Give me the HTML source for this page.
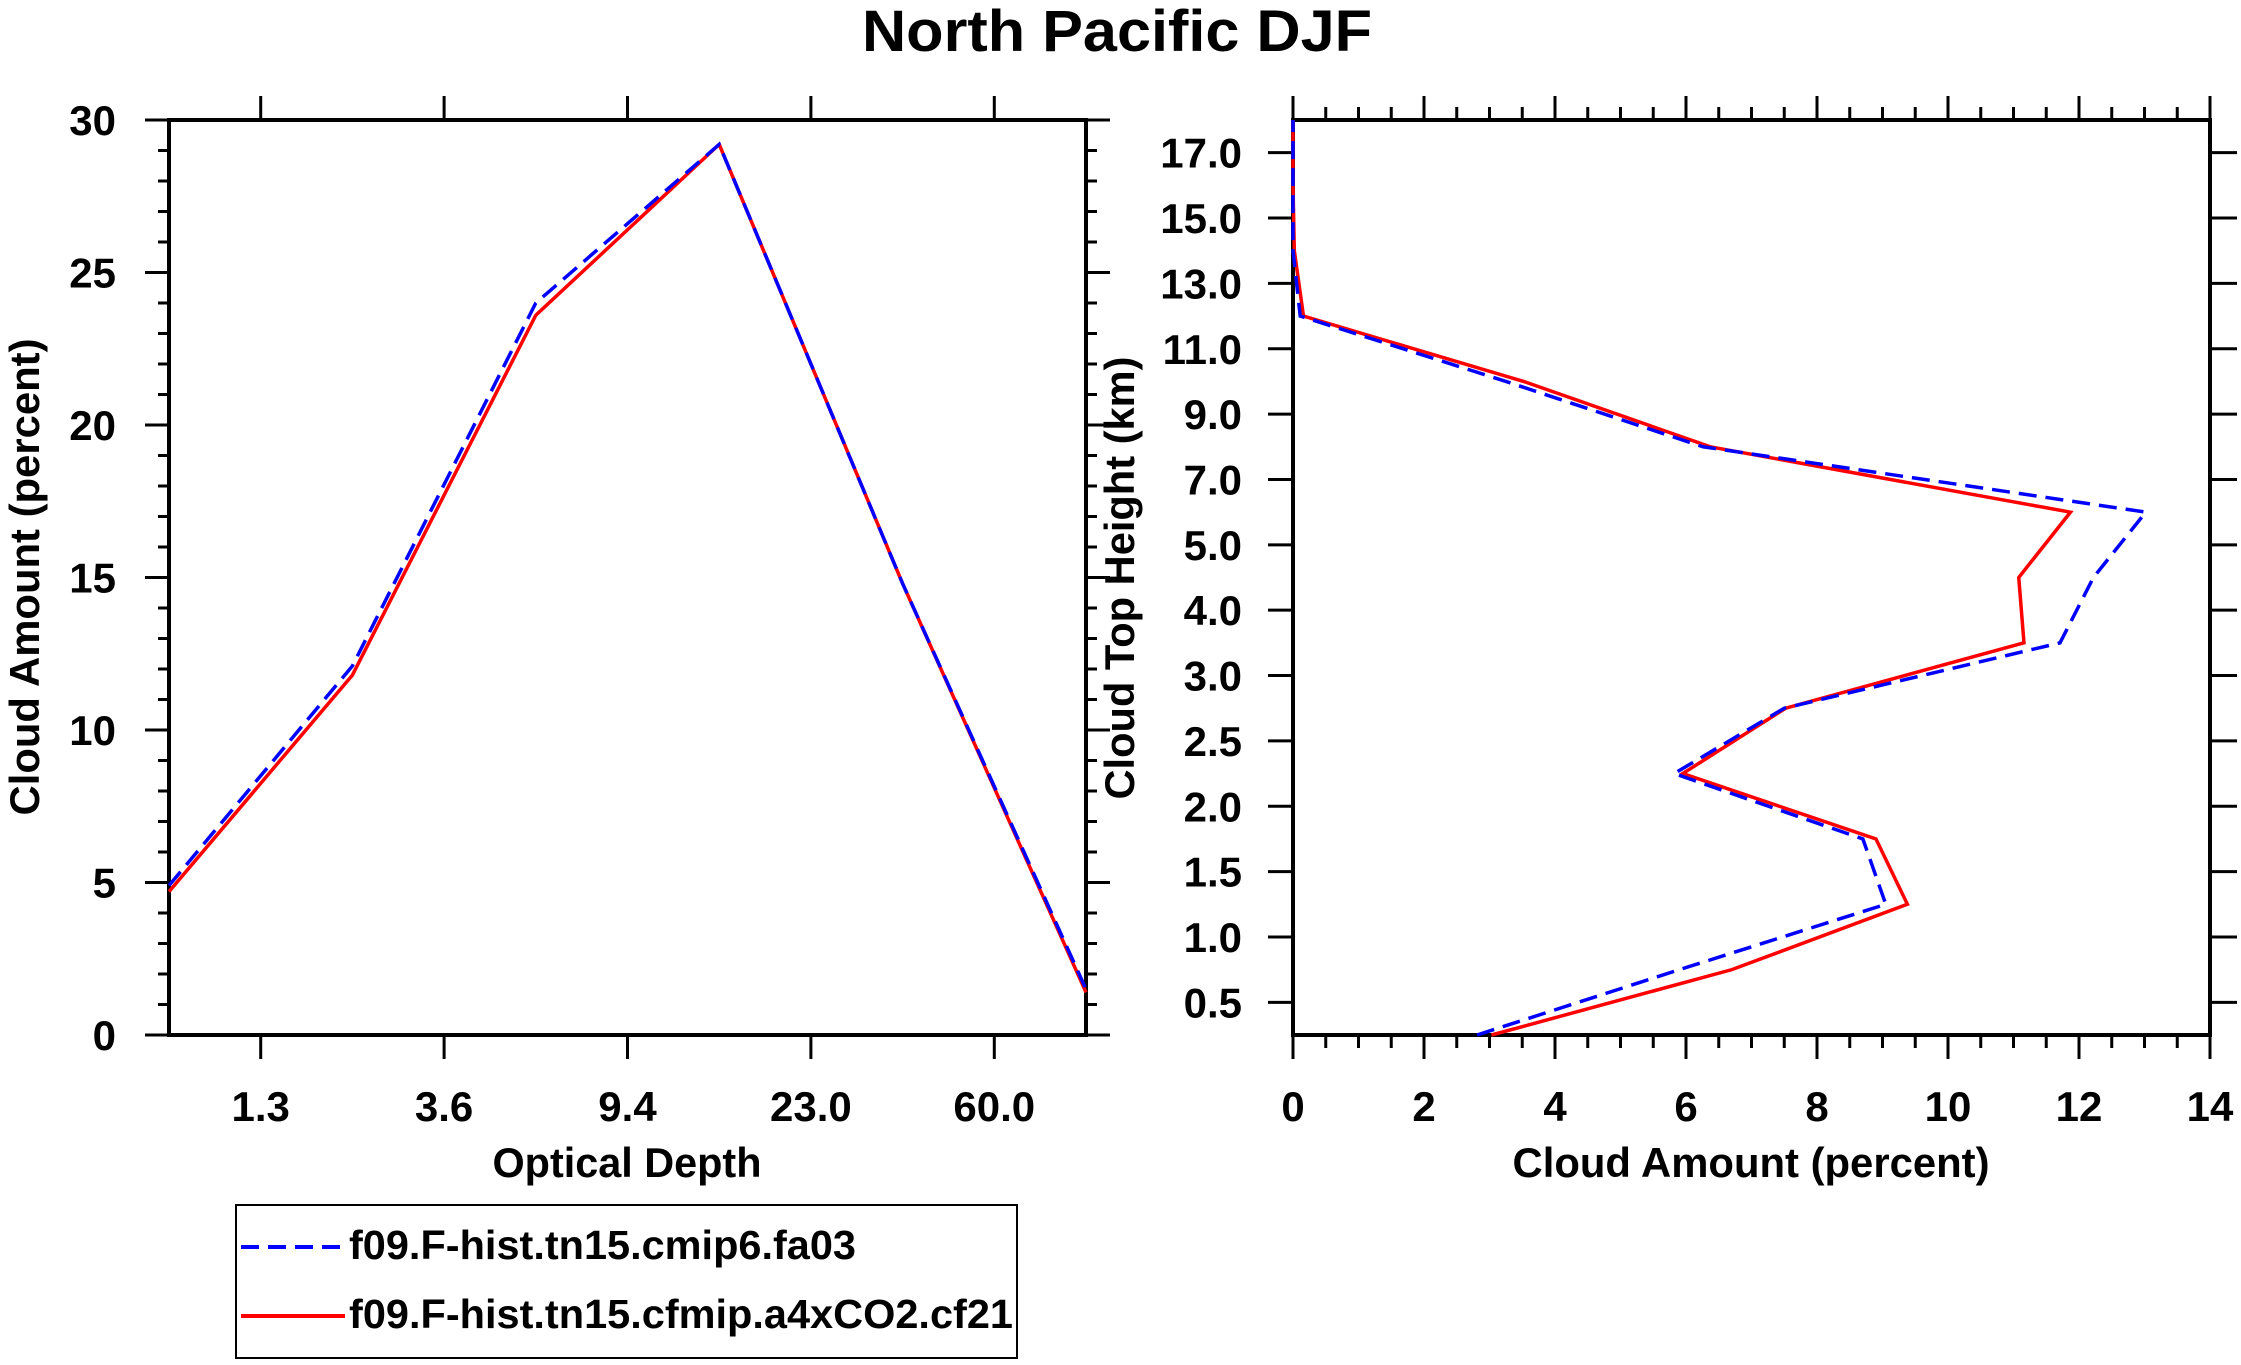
<!DOCTYPE html>
<html><head><meta charset="utf-8"><style>
html,body{margin:0;padding:0;background:#fff;}
svg{display:block;font-family:"Liberation Sans",sans-serif;font-weight:bold;}
</style></head><body>
<svg id="chart" width="2241" height="1365" viewBox="0 0 2241 1365" xmlns="http://www.w3.org/2000/svg">
<text x="1117" y="51" font-size="58" text-anchor="middle" textLength="510" lengthAdjust="spacingAndGlyphs">North Pacific DJF</text>
<g id="left"></g>
<g id="right"></g>
<g id="legend">
<rect x="236" y="1205" width="781" height="153" fill="none" stroke="#000" stroke-width="2"/>
<line x1="241" y1="1247" x2="345" y2="1247" stroke="#0000ff" stroke-width="4" stroke-dasharray="18,9"/>
<text x="349" y="1259" font-size="41" textLength="507" lengthAdjust="spacingAndGlyphs">f09.F-hist.tn15.cmip6.fa03</text>
<line x1="241" y1="1316" x2="345" y2="1316" stroke="#ff0000" stroke-width="4"/>
<text x="349" y="1328" font-size="41" textLength="664" lengthAdjust="spacingAndGlyphs">f09.F-hist.tn15.cfmip.a4xCO2.cf21</text>
</g>
</svg>
<script>
// Left panel data
const tauLabels = ["1.3","3.6","9.4","23.0","60.0"];
const leftBlue = [4.9, 12.1, 24.0, 29.2, 14.8, 1.5];
const leftRed = [4.7, 11.8, 23.6, 29.2, 14.8, 1.4];
const leftYTicks = [0,5,10,15,20,25,30];
// Right panel data
const heightLabels = ["0.5","1.0","1.5","2.0","2.5","3.0","4.0","5.0","7.0","9.0","11.0","13.0","15.0","17.0"];
const rightBlue = [2.81, 5.9, 9.05, 8.7, 5.82, 7.5, 11.71, 12.22, 13.02, 6.26, 3.25, 0.11, 0.0, 0.0, 0.0];
const rightRed = [3.03, 6.7, 9.38, 8.9, 5.95, 7.52, 11.16, 11.08, 11.87, 6.37, 3.52, 0.16, 0.02, 0.0, 0.0];
const rightXTicks = [0,2,4,6,8,10,12,14];

const NS="http://www.w3.org/2000/svg";
function mk(parent,tag,attrs,text){const e=document.createElementNS(NS,tag);for(const k in attrs)e.setAttribute(k,attrs[k]);if(text!==undefined)e.textContent=text;parent.appendChild(e);return e;}

// ---- Left panel ----
const L=document.getElementById('left');
const lx0=169,lx1=1086,ly0=120,ly1=1035;
const lxs=i=>lx0+(lx1-lx0)*i/5;
const lys=v=>ly1-(ly1-ly0)*v/30;
for(let v=0;v<=30;v++){
  const maj=v%5===0;
  const t1=mk(L,'line',{x1:lx0-(maj?24:11),y1:lys(v),x2:lx0,y2:lys(v),stroke:'#000','stroke-width':3});
  
  
  const t2=mk(L,'line',{x1:lx1,y1:lys(v),x2:lx1+(maj?24:11),y2:lys(v),stroke:'#000','stroke-width':3});
  
  
}
leftYTicks.forEach(v=>{
  const t=mk(L,'text',{x:116,y:lys(v)+15,'font-size':42,'text-anchor':'end'},String(v));
  
  
});
tauLabels.forEach((s,i)=>{
  const x=lxs(i+0.5);
  const a=mk(L,'line',{x1:x,y1:ly1,x2:x,y2:ly1+24,stroke:'#000','stroke-width':3});
  
  
  const b=mk(L,'line',{x1:x,y1:ly0,x2:x,y2:ly0-24,stroke:'#000','stroke-width':3});
  
  
  const t=mk(L,'text',{x:x,y:1121,'font-size':42,'text-anchor':'middle'},s);
  
  
});
const lf=mk(L,'rect',{x:lx0,y:ly0,width:lx1-lx0,height:ly1-ly0,fill:'none',stroke:'#000','stroke-width':4});


const lr=mk(L,'polyline',{points:leftRed.map((v,i)=>lxs(i)+','+lys(v)).join(' '),fill:'none',stroke:'#ff0000','stroke-width':3.5});


const lb=mk(L,'polyline',{points:leftBlue.map((v,i)=>lxs(i)+','+lys(v)).join(' '),fill:'none',stroke:'#0000ff','stroke-width':3.5,'stroke-dasharray':'18,9'});


const lxt=mk(L,'text',{x:627,y:1177,'font-size':42,'text-anchor':'middle',textLength:269,lengthAdjust:'spacingAndGlyphs'},'Optical Depth');


const lyt=mk(L,'text',{x:0,y:0,'font-size':42,'text-anchor':'middle',textLength:477,lengthAdjust:'spacingAndGlyphs',transform:'translate(39,577) rotate(-90)'},'Cloud Amount (percent)');



// ---- Right panel ----
const R=document.getElementById('right');
const rx0=1293,rx1=2210,ry0=120,ry1=1035;
const rxs=v=>rx0+(rx1-rx0)*v/14;
const rys=i=>ry1-(ry1-ry0)*(i+0.5)/14; // category index
for(let k=0;k<=28;k++){
  const v=k*0.5, maj=k%4===0, x=rxs(v);
  const a=mk(R,'line',{x1:x,y1:ry1,x2:x,y2:ry1+(maj?24:13),stroke:'#000','stroke-width':3});
  
  
  const b=mk(R,'line',{x1:x,y1:ry0,x2:x,y2:ry0-(maj?24:13),stroke:'#000','stroke-width':3});
  
  
}
rightXTicks.forEach(v=>{
  const t=mk(R,'text',{x:rxs(v),y:1121,'font-size':42,'text-anchor':'middle'},String(v));
  
  
});
heightLabels.forEach((s,i)=>{
  const y=rys(i);
  const a=mk(R,'line',{x1:rx0-25,y1:y,x2:rx0,y2:y,stroke:'#000','stroke-width':3});
  
  
  const b=mk(R,'line',{x1:rx1,y1:y,x2:rx1+27,y2:y,stroke:'#000','stroke-width':3});
  
  
  const t=mk(R,'text',{x:1242,y:y+15,'font-size':42,'text-anchor':'end'},s);
  
  
});
const rf=mk(R,'rect',{x:rx0,y:ry0,width:rx1-rx0,height:ry1-ry0,fill:'none',stroke:'#000','stroke-width':4});


const rr=mk(R,'polyline',{points:rightRed.map((v,i)=>rxs(v)+','+rys(i-0.5)).join(' '),fill:'none',stroke:'#ff0000','stroke-width':3.5});


const rb=mk(R,'polyline',{points:rightBlue.map((v,i)=>rxs(v)+','+rys(i-0.5)).join(' '),fill:'none',stroke:'#0000ff','stroke-width':3.5,'stroke-dasharray':'18,9'});


const rxt=mk(R,'text',{x:1751,y:1177,'font-size':42,'text-anchor':'middle',textLength:477,lengthAdjust:'spacingAndGlyphs'},'Cloud Amount (percent)');


const ryt=mk(R,'text',{x:0,y:0,'font-size':42,'text-anchor':'middle',textLength:443,lengthAdjust:'spacingAndGlyphs',transform:'translate(1134,578) rotate(-90)'},'Cloud Top Height (km)');


</script>
</body></html>
